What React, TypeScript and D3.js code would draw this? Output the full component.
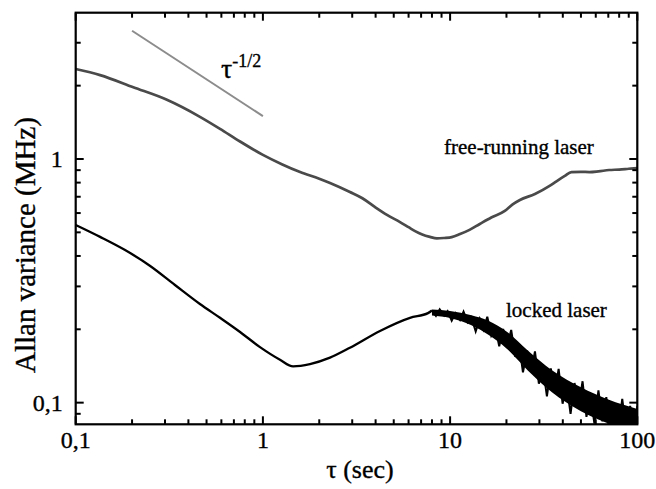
import React from "react";
import * as d3 from "d3";

const W = 656;
const H = 489;
const PL = 75.7, PR = 637.3, PT = 12.7, PB = 424.3;

// free-running laser (tau in s, Allan deviation in MHz)
const freeTau = [0.1, 0.135, 0.203, 0.307, 0.461, 0.59, 0.755, 1.0, 1.27, 1.58, 2.0, 2.283, 2.917, 3.4, 3.96, 4.6, 5.4, 6.0, 6.5, 7.1, 7.8, 8.5, 9.3, 10.2, 11.3, 12.7, 14.4, 16.6, 19.6, 21.5, 23.6, 28.4, 34, 37, 41, 44.5, 50, 55.5, 62, 70.7, 80, 90, 100];
const freeVal = [2.34, 2.21, 1.97, 1.75, 1.49, 1.33, 1.18, 1.04, 0.95, 0.884, 0.83, 0.797, 0.732, 0.69, 0.636, 0.59, 0.551, 0.525, 0.506, 0.49, 0.479, 0.472, 0.474, 0.478, 0.492, 0.512, 0.541, 0.575, 0.612, 0.65, 0.679, 0.718, 0.775, 0.81, 0.852, 0.884, 0.886, 0.884, 0.89, 0.901, 0.905, 0.912, 0.918];

// locked laser: smooth part
const lockTau = [0.1, 0.135, 0.1835, 0.25, 0.339, 0.461, 0.59, 0.755, 0.965, 1.234, 1.45, 1.784, 2.283, 2.917, 4.222, 6.107, 7.62, 8.0];
const lockVal = [0.536, 0.479, 0.423, 0.364, 0.304, 0.254, 0.223, 0.195, 0.169, 0.150, 0.141, 0.144, 0.153, 0.168, 0.197, 0.223, 0.233, 0.2389];

// locked laser: noisy part
const noiseTau = [8.0, 8.4, 8.8, 9.3, 9.7, 10.2, 10.7, 11.3, 11.8, 12.4, 13.0, 13.7, 14.4, 15.1, 15.8, 16.6, 17.5, 18.3, 19.2, 20.2, 21.2, 22.3, 23.4, 24.5, 25.8, 27.1, 28.4, 29.8, 31.3, 32.9, 34.5, 36.2, 38.0, 39.9, 41.9, 44.0, 46.2, 48.5, 51.0, 53.5, 56.2, 59.0, 62.0, 65.1, 68.3, 71.7, 75.3, 79.1, 83.1, 87.2, 91.6, 96.2, 100];
const noiseVal = [0.2389, 0.2269, 0.2417, 0.2275, 0.2373, 0.2172, 0.233, 0.2185, 0.2365, 0.214, 0.2239, 0.1961, 0.2206, 0.1995, 0.2252, 0.1883, 0.2021, 0.1704, 0.2004, 0.1709, 0.1989, 0.154, 0.1722, 0.1331, 0.1636, 0.1338, 0.1622, 0.1196, 0.1401, 0.1062, 0.1381, 0.1098, 0.1375, 0.099, 0.1195, 0.0899, 0.1204, 0.0949, 0.1224, 0.0874, 0.1077, 0.082, 0.1122, 0.0838, 0.1054, 0.0765, 0.0982, 0.076, 0.1036, 0.0774, 0.0969, 0.0716, 0.0969];

// dense core of the noisy locked-laser trace
const bandTau = [8, 10, 13, 16, 20, 26, 35, 50, 70, 100];
const bandHi = [0.2412, 0.2378, 0.2282, 0.2168, 0.196, 0.1637, 0.1358, 0.1156, 0.103, 0.0942];
const bandLo = [0.228, 0.2227, 0.2076, 0.1899, 0.1669, 0.1355, 0.1103, 0.0922, 0.0821, 0.0752];

// tau^-1/2 guide
const refTau = [0.2, 1];
const refVal = [3.36, 1.5];

const xMajor = [0.1, 1, 10, 100];
const xMajorLabels = ["0,1", "1", "10", "100"];
const xMinor = [0.2, 0.3, 0.4, 0.5, 0.6, 0.7, 0.8, 0.9, 2, 3, 4, 5, 6, 7, 8, 9, 20, 30, 40, 50, 60, 70, 80, 90];
const yMajor = [0.1, 1];
const yMajorLabels = ["0,1", "1"];
const yMinor = [0.09, 0.2, 0.3, 0.4, 0.5, 0.6, 0.7, 0.8, 0.9, 2, 3];

const FONT = "'Liberation Serif', 'Times New Roman', serif";

export default function App() {
  const x = d3.scaleLog().domain([0.1, 100]).range([PL, PR]);
  const y = d3.scaleLog().domain([0.0815, 3.985]).range([PB, PT]);

  const smooth = d3.line<[number, number]>().x((d) => x(d[0])).y((d) => y(d[1])).curve(d3.curveMonotoneX);
  const straight = d3.line<[number, number]>().x((d) => x(d[0])).y((d) => y(d[1]));
  const area = d3.area<number>()
    .x((_, i) => x(bandTau[i]))
    .y0((_, i) => y(bandLo[i]))
    .y1((_, i) => y(bandHi[i]))
    .curve(d3.curveMonotoneX);

  const freePts = freeTau.map((t, i) => [t, freeVal[i]] as [number, number]);
  const lockPts = lockTau.map((t, i) => [t, lockVal[i]] as [number, number]);
  const noisePts = noiseTau.map((t, i) => [t, noiseVal[i]] as [number, number]);
  const refPts = refTau.map((t, i) => [t, refVal[i]] as [number, number]);

  const MAJ = 8, MIN = 5;
  const txt = { fill: "#000", stroke: "#000", strokeWidth: 0.35 };

  return (
    <svg width={W} height={H} style={{ position: "absolute", left: 0, top: 0, background: "#fff" }} fontFamily={FONT}>
      <defs>
        <clipPath id="plot">
          <rect x={PL} y={PT} width={PR - PL} height={PB - PT} />
        </clipPath>
      </defs>
      <g clipPath="url(#plot)">
        <path d={straight(refPts) || ""} fill="none" stroke="#8c8c8c" strokeWidth={2} />
        <path d={smooth(freePts) || ""} fill="none" stroke="#4a4a4a" strokeWidth={2.7} strokeLinejoin="round" />
        <path d={area(bandTau) || ""} fill="#000" />
        <path d={smooth(lockPts) || ""} fill="none" stroke="#000" strokeWidth={2.3} strokeLinejoin="round" />
        <path d={straight(noisePts) || ""} fill="none" stroke="#000" strokeWidth={2} strokeLinejoin="miter" />
      </g>
      <g stroke="#000" strokeWidth={2}>
        {xMajor.map((t) => (
          <g key={"xM" + t}>
            <line x1={x(t)} x2={x(t)} y1={PB} y2={PB - MAJ} />
            <line x1={x(t)} x2={x(t)} y1={PT} y2={PT + MAJ} />
          </g>
        ))}
        {xMinor.map((t) => (
          <g key={"xm" + t}>
            <line x1={x(t)} x2={x(t)} y1={PB} y2={PB - MIN} />
            <line x1={x(t)} x2={x(t)} y1={PT} y2={PT + MIN} />
          </g>
        ))}
        {yMajor.map((t) => (
          <g key={"yM" + t}>
            <line x1={PL} x2={PL + MAJ} y1={y(t)} y2={y(t)} />
            <line x1={PR} x2={PR - MAJ} y1={y(t)} y2={y(t)} />
          </g>
        ))}
        {yMinor.map((t) => (
          <g key={"ym" + t}>
            <line x1={PL} x2={PL + MIN} y1={y(t)} y2={y(t)} />
            <line x1={PR} x2={PR - MIN} y1={y(t)} y2={y(t)} />
          </g>
        ))}
      </g>
      <rect x={PL} y={PT} width={PR - PL} height={PB - PT} fill="none" stroke="#000" strokeWidth={2.2} />
      <g fontSize={24} {...txt}>
        {xMajor.map((t, i) => (
          <text key={"xl" + t} x={x(t)} y={PB + 24} textAnchor="middle">{xMajorLabels[i]}</text>
        ))}
        {yMajor.map((t, i) => (
          <text key={"yl" + t} x={PL - 13} y={y(t) + 8} textAnchor="end">{yMajorLabels[i]}</text>
        ))}
      </g>
      <text x={360} y={478} textAnchor="middle" fontSize={26} {...txt}>τ (sec)</text>
      <text transform={`translate(35, 245) rotate(-90)`} textAnchor="middle" fontSize={29} {...txt}>Allan variance (MHz)</text>
      <text x={444} y={154} fontSize={21} {...txt}>free-running laser</text>
      <text x={506} y={317} fontSize={21} {...txt}>locked laser</text>
      <text x={221} y={78} fontSize={28} {...txt}>τ<tspan fontSize={18} dy={-11}>-1/2</tspan></text>
    </svg>
  );
}
